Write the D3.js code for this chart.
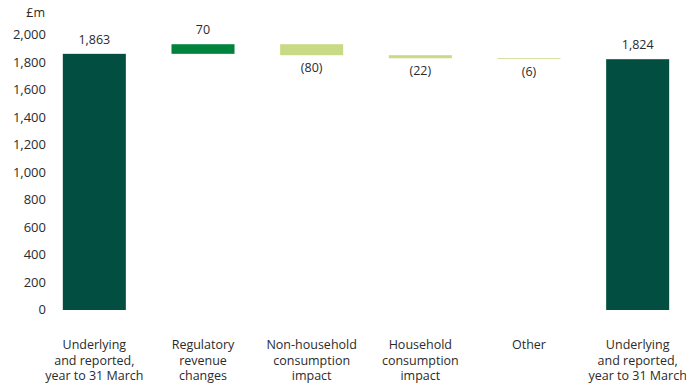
<!DOCTYPE html>
<html>
<head>
<meta charset="utf-8">
<script src="https://cdn.jsdelivr.net/npm/d3@7"></script>
<style>
  body { margin: 0; background: #fff; }
  text { font-family: "Open Sans", "Noto Sans", sans-serif; fill: #2b2b2b; }
</style>
</head>
<body>
<svg id="chart"></svg>
<script>
// waterfall data, £m
const categories = ["open", "regulatory", "nonhousehold", "household", "other", "close"];
const categoryLines = [
    ["Underlying", "and reported,", "year to 31 March"],
    ["Regulatory", "revenue", "changes"],
    ["Non-household", "consumption", "impact"],
    ["Household", "consumption", "impact"],
    ["Other"],
    ["Underlying", "and reported,", "year to 31 March"]
];
const values = [1863, 70, -80, -22, -6, 1824];
const kinds = ["total", "up", "down", "down", "down", "total"];
const yTicks = [0, 200, 400, 600, 800, 1000, 1200, 1400, 1600, 1800, 2000];

const width = 686, height = 385;
const colors = { total: "#024f41", up: "#00843d", down: "#c8da84" };

const svg = d3.select("#chart")
    .attr("width", width)
    .attr("height", height);

// running totals for the floating bars
let running = 0;
const bars = categories.map((c, i) => {
    const v = values[i];
    let start, end;
    if (kinds[i] === "total") {
        start = 0; end = v; running = v;
    } else {
        start = running; end = running + v; running = end;
    }
    return { key: c, value: v, kind: kinds[i], start: start, end: end, lines: categoryLines[i] };
});

const x = d3.scaleBand()
    .domain(categories)
    .range([40, 692])
    .paddingInner(0.42)
    .paddingOuter(0.21);

const y = d3.scaleLinear()
    .domain([0, 2000])
    .range([310, 35]);

// y axis, labels only
const yAxis = svg.append("g")
    .attr("transform", "translate(46,0)")
    .call(d3.axisLeft(y).tickValues(yTicks).tickSize(0).tickPadding(0).tickFormat(d3.format(",")));
yAxis.select(".domain").remove();
yAxis.selectAll("text")
    .attr("dy", "0.3em")
    .style("font-size", "13px")
    .style("font-family", "'Open Sans', sans-serif")
    .attr("fill", "#2b2b2b");

svg.append("text")
    .attr("x", 45)
    .attr("y", 17)
    .attr("text-anchor", "end")
    .style("font-size", "12.5px")
    .text("£m");

svg.selectAll(".bar")
    .data(bars)
    .enter().append("rect")
    .attr("class", "bar")
    .attr("x", d => x(d.key))
    .attr("width", x.bandwidth())
    .attr("y", d => y(Math.max(d.start, d.end)))
    .attr("height", d => Math.abs(y(d.start) - y(d.end)))
    .attr("fill", d => colors[d.kind]);

const fmt = d3.format(",");
svg.selectAll(".value")
    .data(bars)
    .enter().append("text")
    .attr("class", "value")
    .attr("x", d => x(d.key) + x.bandwidth() / 2)
    .attr("y", d => d.value >= 0 ? y(Math.max(d.start, d.end)) - 10 : y(Math.min(d.start, d.end)) + 17)
    .attr("text-anchor", "middle")
    .style("font-size", "12.5px")
    .text(d => d.value >= 0 ? fmt(d.value) : "(" + fmt(-d.value) + ")");

const labels = svg.selectAll(".cat")
    .data(bars)
    .enter().append("text")
    .attr("class", "cat")
    .attr("text-anchor", "middle")
    .style("font-size", "12.5px");

labels.selectAll("tspan")
    .data(d => d.lines.map(l => ({ line: l, key: d.key })))
    .enter().append("tspan")
    .attr("x", d => x(d.key) + x.bandwidth() / 2)
    .attr("y", (d, i) => 349 + i * 15.5)
    .text(d => d.line);
</script>
</body>
</html>
